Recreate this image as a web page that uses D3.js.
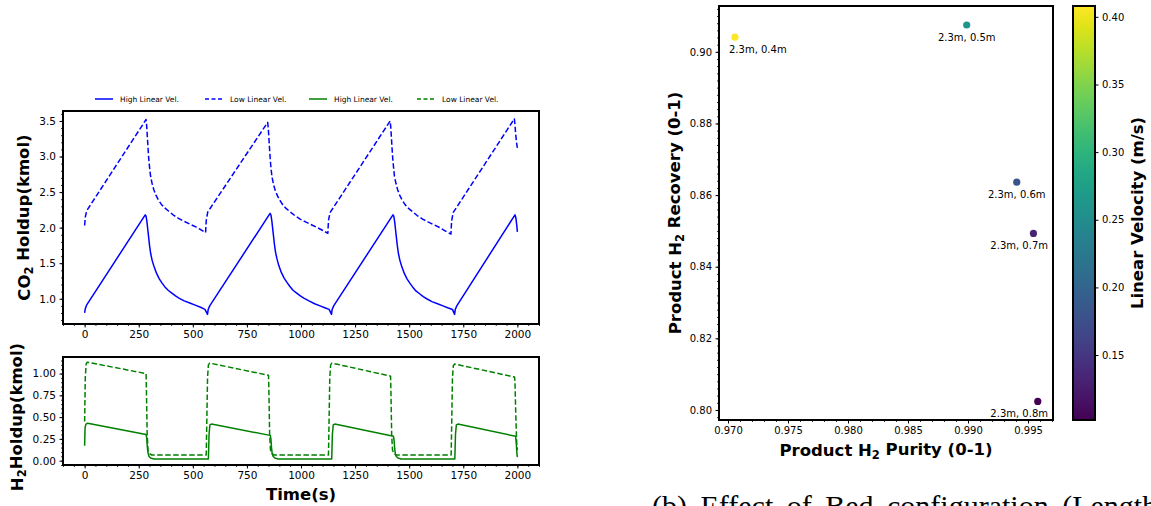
<!DOCTYPE html>
<html>
<head>
<meta charset="utf-8">
<script src="https://cdn.jsdelivr.net/npm/d3@7"></script>
<style>
  body { margin: 0; background: #fff; }
  svg { display: block; font-family: "DejaVu Sans", sans-serif; }
  .tick text { fill: #000; }
  .domain { display: none; }
</style>
</head>
<body>
<div id="chart"></div>
<script>
var W = 1151, H = 506;

// CO2 holdup, high linear velocity (solid blue) [time s, kmol]
var co2High = [[0,0.80],[3,0.86],[9,0.91],[280,2.18],[284,2.16],[288,2.08],[292,1.97],[296,1.86],[300,1.75],[305,1.64],[312,1.54],[320,1.46],[332,1.36],[345,1.28],[358,1.22],[370,1.17],[386,1.12],[403,1.08],[420,1.04],[436,1.01],[460,0.97],[486,0.94],[511,0.91],[536,0.88],[556,0.85],[568,0.78],
  [571,0.85],[578,0.90],[857,2.20],[861,2.18],[865,2.10],[869,1.99],[873,1.88],[877,1.77],[882,1.66],[889,1.56],[897,1.47],[909,1.37],[922,1.29],[935,1.23],[947,1.18],[963,1.12],[980,1.08],[997,1.04],[1013,1.01],[1037,0.97],[1063,0.93],[1088,0.90],[1113,0.87],[1130,0.85],[1141,0.78],
  [1144,0.85],[1151,0.90],[1425,2.18],[1429,2.16],[1433,2.08],[1437,1.97],[1441,1.86],[1445,1.75],[1450,1.64],[1457,1.54],[1465,1.46],[1477,1.36],[1490,1.28],[1503,1.22],[1515,1.17],[1531,1.11],[1548,1.07],[1565,1.03],[1581,1.00],[1605,0.96],[1631,0.93],[1656,0.90],[1681,0.87],[1700,0.85],[1710,0.78],
  [1713,0.85],[1720,0.90],[1989,2.18],[1993,2.14],[1997,2.04],[2000,1.94]];

// CO2 holdup, low linear velocity (dashed blue)
var co2Low = [[0,2.03],[3,2.15],[10,2.24],[284,3.52],[287,3.42],[290,3.27],[293,3.12],[296,2.98],[300,2.85],[304,2.74],[311,2.63],[319,2.54],[329,2.46],[339,2.40],[354,2.33],[369,2.28],[389,2.23],[409,2.18],[434,2.13],[459,2.09],[486,2.05],[514,2.01],[538,1.97],[559,1.93],
  [562,2.10],[569,2.22],[846,3.48],[849,3.39],[852,3.24],[855,3.09],[858,2.95],[862,2.82],[866,2.71],[873,2.61],[881,2.52],[891,2.45],[901,2.39],[916,2.32],[931,2.27],[951,2.22],[971,2.17],[996,2.12],[1021,2.08],[1048,2.04],[1076,2.00],[1101,1.96],[1124,1.92],
  [1127,2.10],[1134,2.21],[1412,3.50],[1415,3.41],[1418,3.26],[1421,3.11],[1424,2.97],[1428,2.84],[1432,2.72],[1439,2.62],[1447,2.53],[1457,2.45],[1467,2.39],[1482,2.32],[1497,2.27],[1517,2.22],[1537,2.17],[1562,2.12],[1587,2.08],[1614,2.04],[1642,2.00],[1668,1.95],[1693,1.91],
  [1696,2.09],[1703,2.21],[1986,3.53],[1989,3.45],[1992,3.32],[1996,3.20],[2000,3.12]];

// H2 holdup, high linear velocity (solid green)
var h2High = [[0,0.17],[2,0.38],[6,0.42],[14,0.43],[284,0.30],[287,0.26],[290,0.15],[293,0.09],[297,0.05],[305,0.03],[320,0.02],[572,0.02],
  [575,0.30],[579,0.41],[586,0.42],[858,0.29],[861,0.25],[864,0.14],[867,0.08],[871,0.05],[879,0.03],[894,0.02],[1142,0.02],
  [1145,0.30],[1149,0.41],[1156,0.42],[1427,0.28],[1430,0.24],[1433,0.14],[1436,0.08],[1440,0.05],[1448,0.03],[1463,0.02],[1711,0.02],
  [1714,0.30],[1718,0.41],[1725,0.42],[1992,0.28],[1995,0.20],[1998,0.08],[2000,0.04]];

// H2 holdup, low linear velocity (dashed green)
var h2Low = [[0,0.45],[3,0.95],[7,1.11],[12,1.13],[284,1.00],[286,0.75],[289,0.30],[293,0.12],[300,0.08],[310,0.065],[562,0.065],
  [565,0.50],[568,0.95],[572,1.10],[578,1.12],[850,0.98],[852,0.75],[855,0.30],[859,0.12],[866,0.08],[876,0.065],[1127,0.065],
  [1130,0.50],[1133,0.95],[1137,1.10],[1143,1.12],[1414,0.97],[1416,0.75],[1419,0.30],[1423,0.12],[1430,0.08],[1440,0.065],[1694,0.065],
  [1697,0.50],[1700,0.95],[1704,1.09],[1710,1.11],[1987,0.96],[1989,0.90],[1993,0.50],[1997,0.20],[2000,0.12]];

var timeTicks = [0, 250, 500, 750, 1000, 1250, 1500, 1750, 2000];
var co2Ticks = [1.0, 1.5, 2.0, 2.5, 3.0, 3.5];
var h2Ticks = [0, 0.25, 0.5, 0.75, 1.0];
var legendLabels = ["High Linear Vel.", "Low Linear Vel.", "High Linear Vel.", "Low Linear Vel."];

// bed configuration scatter
var purity = [0.97058, 0.98989, 0.99406, 0.99545, 0.99581];
var recovery = [0.9041, 0.9075, 0.8636, 0.8493, 0.8024];
var velocity = [0.408, 0.261, 0.181, 0.133, 0.102];
var pointLabels = ["2.3m, 0.4m", "2.3m, 0.5m", "2.3m, 0.6m", "2.3m, 0.7m", "2.3m, 0.8m"];
var purityTicks = [0.970, 0.975, 0.980, 0.985, 0.990, 0.995];
var recoveryTicks = [0.80, 0.82, 0.84, 0.86, 0.88, 0.90];
var velTicks = [0.15, 0.20, 0.25, 0.30, 0.35, 0.40];

var svg = d3.select("#chart").append("svg")
    .attr("width", W)
    .attr("height", H);

var blue = "#0000ff", green = "#008000";

function range(a, b, step) {
  var out = [];
  for (var v = a; v <= b + step / 1000; v += step) out.push(+v.toFixed(6));
  return out;
}

// draw an axis with major + minor ticks
function drawAxis(g, axisFn, scale, ticks, minor, fmt, size) {
  var minorG = g.append("g").call(axisFn(scale).tickValues(minor).tickSize(2).tickFormat(""));
  minorG.selectAll("line").attr("stroke-width", 0.8);
  var major = g.append("g").call(axisFn(scale).tickValues(ticks).tickSize(3.5).tickPadding(3.5).tickFormat(fmt));
  major.selectAll("text").style("font-size", size + "px").style("font-family", "DejaVu Sans");
  major.selectAll("line").attr("stroke-width", 1);
  return major;
}

function frame(x0, y0, x1, y1) {
  svg.append("rect")
     .attr("x", x0).attr("y", y0)
     .attr("width", x1 - x0).attr("height", y1 - y0)
     .attr("fill", "none").attr("stroke", "#000").attr("stroke-width", 2);
}

var line = function(xs, ys) {
  return d3.line().x(function(d) { return xs(d[0]); }).y(function(d) { return ys(d[1]); });
};

// ---------- top panel: CO2 holdup ----------
var upper = {l: 63, r: 539, t: 111, b: 324};
var xt = d3.scaleLinear().domain([-100, 2100]).range([upper.l, upper.r]);
var yt = d3.scaleLinear().domain([0.645, 3.64]).range([upper.b, upper.t]);

svg.append("clipPath").attr("id", "clipTop").append("rect")
   .attr("x", upper.l).attr("y", upper.t).attr("width", upper.r - upper.l).attr("height", upper.b - upper.t);

svg.append("path").datum(co2High).attr("clip-path", "url(#clipTop)")
   .attr("d", line(xt, yt)).attr("fill", "none").attr("stroke", blue).attr("stroke-width", 1.5)
   .attr("stroke-linejoin", "round");
svg.append("path").datum(co2Low).attr("clip-path", "url(#clipTop)")
   .attr("d", line(xt, yt)).attr("fill", "none").attr("stroke", blue).attr("stroke-width", 1.5)
   .attr("stroke-linejoin", "round").attr("stroke-dasharray", "5.5,2.5");

drawAxis(svg.append("g").attr("transform", "translate(0," + upper.b + ")"), d3.axisBottom, xt,
         timeTicks, range(-100, 2100, 50), d3.format("d"), 10.5);
drawAxis(svg.append("g").attr("transform", "translate(" + upper.l + ",0)"), d3.axisLeft, yt,
         co2Ticks, range(0.7, 3.6, 0.1), d3.format(".1f"), 10.5);
frame(upper.l, upper.t, upper.r, upper.b);

// legend
var legX = [95, 205, 309, 417];
var legStyle = [[blue, null], [blue, "4,2.5"], [green, null], [green, "4,2.5"]];
legendLabels.forEach(function(lab, i) {
  svg.append("line").attr("x1", legX[i]).attr("x2", legX[i] + 18).attr("y1", 99).attr("y2", 99)
     .attr("stroke", legStyle[i][0]).attr("stroke-width", 1.5)
     .attr("stroke-dasharray", legStyle[i][1]);
  svg.append("text").attr("x", legX[i] + 25).attr("y", 101.8)
     .style("font-size", "7.5px").text(lab);
});

var tl = svg.append("text").attr("transform", "translate(30," + ((upper.t + upper.b) / 2) + ") rotate(-90)")
   .attr("text-anchor", "middle").style("font-weight", "bold").style("font-size", "16.5px");
tl.append("tspan").text("CO");
tl.append("tspan").attr("dy", "0.3em").style("font-size", "11.5px").text("2");
tl.append("tspan").attr("dy", "-0.3em").text(" Holdup(kmol)");

// ---------- bottom panel: H2 holdup ----------
var lower = {l: 63, r: 539, t: 357, b: 465};
var yb = d3.scaleLinear().domain([-0.05, 1.19]).range([lower.b, lower.t]);

svg.append("clipPath").attr("id", "clipBot").append("rect")
   .attr("x", lower.l).attr("y", lower.t).attr("width", lower.r - lower.l).attr("height", lower.b - lower.t);

svg.append("path").datum(h2High).attr("clip-path", "url(#clipBot)")
   .attr("d", line(xt, yb)).attr("fill", "none").attr("stroke", green).attr("stroke-width", 1.5)
   .attr("stroke-linejoin", "round");
svg.append("path").datum(h2Low).attr("clip-path", "url(#clipBot)")
   .attr("d", line(xt, yb)).attr("fill", "none").attr("stroke", green).attr("stroke-width", 1.5)
   .attr("stroke-linejoin", "round").attr("stroke-dasharray", "5.5,2.5");

drawAxis(svg.append("g").attr("transform", "translate(0," + lower.b + ")"), d3.axisBottom, xt,
         timeTicks, range(-100, 2100, 50), d3.format("d"), 10.5);
drawAxis(svg.append("g").attr("transform", "translate(" + lower.l + ",0)"), d3.axisLeft, yb,
         h2Ticks, range(-0.05, 1.15, 0.05), d3.format(".2f"), 10.5);
frame(lower.l, lower.t, lower.r, lower.b);

var bl = svg.append("text").attr("transform", "translate(23," + ((lower.t + lower.b) / 2 + 6) + ") rotate(-90)")
   .attr("text-anchor", "middle").style("font-weight", "bold").style("font-size", "16.5px");
bl.append("tspan").text("H");
bl.append("tspan").attr("dy", "0.3em").style("font-size", "11.5px").text("2");
bl.append("tspan").attr("dy", "-0.3em").text("Holdup(kmol)");

svg.append("text").attr("x", (lower.l + lower.r) / 2).attr("y", 500)
   .attr("text-anchor", "middle").style("font-weight", "bold").style("font-size", "16.5px")
   .text("Time(s)");

// ---------- right panel: purity vs recovery ----------
var sc = {l: 719, r: 1053, t: 6, b: 420};
var xs = d3.scaleLinear().domain([0.96925, 0.99708]).range([sc.l, sc.r]);
var ys = d3.scaleLinear().domain([0.7972, 0.9128]).range([sc.b, sc.t]);
var vMin = 0.102, vMax = 0.408;
var color = d3.scaleSequential(d3.interpolateViridis).domain([vMin, vMax]);

drawAxis(svg.append("g").attr("transform", "translate(0," + sc.b + ")"), d3.axisBottom, xs,
         purityTicks, range(0.970, 0.997, 0.001), d3.format(".3f"), 10);
drawAxis(svg.append("g").attr("transform", "translate(" + sc.l + ",0)"), d3.axisLeft, ys,
         recoveryTicks, range(0.798, 0.912, 0.002), d3.format(".2f"), 10);

purity.forEach(function(p, i) {
  var cx = xs(p), cy = ys(recovery[i]);
  svg.append("circle").attr("cx", cx).attr("cy", cy).attr("r", 3.6).attr("fill", color(velocity[i]));
  var t = svg.append("text").attr("y", cy + 16).style("font-size", "10px").text(pointLabels[i]);
  var w = t.node().getComputedTextLength();
  var x0 = Math.max(sc.l + 10, Math.min(cx - w / 2, sc.r - 5 - w));
  t.attr("x", x0);
});
frame(sc.l, sc.t, sc.r, sc.b);

var yl = svg.append("text").attr("transform", "translate(681," + ((sc.t + sc.b) / 2) + ") rotate(-90)")
   .attr("text-anchor", "middle").style("font-weight", "bold").style("font-size", "16.5px");
yl.append("tspan").text("Product H");
yl.append("tspan").attr("dy", "0.3em").style("font-size", "11.5px").text("2");
yl.append("tspan").attr("dy", "-0.3em").text(" Recovery (0-1)");

var xl = svg.append("text").attr("x", (sc.l + sc.r) / 2).attr("y", 456)
   .attr("text-anchor", "middle").style("font-weight", "bold").style("font-size", "16.5px");
xl.append("tspan").text("Product H");
xl.append("tspan").attr("dy", "0.3em").style("font-size", "11.5px").text("2");
xl.append("tspan").attr("dy", "-0.3em").text(" Purity (0-1)");

// colorbar
var cb = {l: 1073, r: 1095, t: 6, b: 420};
var cy = d3.scaleLinear().domain([vMin, vMax]).range([cb.b, cb.t]);
var grad = svg.append("defs").append("linearGradient").attr("id", "viridis")
   .attr("x1", 0).attr("y1", 1).attr("x2", 0).attr("y2", 0);
d3.range(0, 1.0001, 0.05).forEach(function(s) {
  grad.append("stop").attr("offset", s).attr("stop-color", d3.interpolateViridis(s));
});
svg.append("rect").attr("x", cb.l).attr("y", cb.t).attr("width", cb.r - cb.l).attr("height", cb.b - cb.t)
   .attr("fill", "url(#viridis)");
drawAxis(svg.append("g").attr("transform", "translate(" + cb.r + ",0)"), d3.axisRight, cy,
         velTicks, [], d3.format(".2f"), 10);
frame(cb.l, cb.t, cb.r, cb.b);

svg.append("text").attr("transform", "translate(1143," + ((cb.t + cb.b) / 2) + ") rotate(-90)")
   .attr("text-anchor", "middle").style("font-weight", "bold").style("font-size", "16.5px")
   .text("Linear Velocity (m/s)");

// caption, cut by the page edge
svg.append("text").attr("x", 652).attr("y", 516)
   .style("font-family", "Liberation Serif").style("font-size", "30px").style("word-spacing", "6px")
   .text("(b) Effect of Bed configuration (Length");
</script>
</body>
</html>
